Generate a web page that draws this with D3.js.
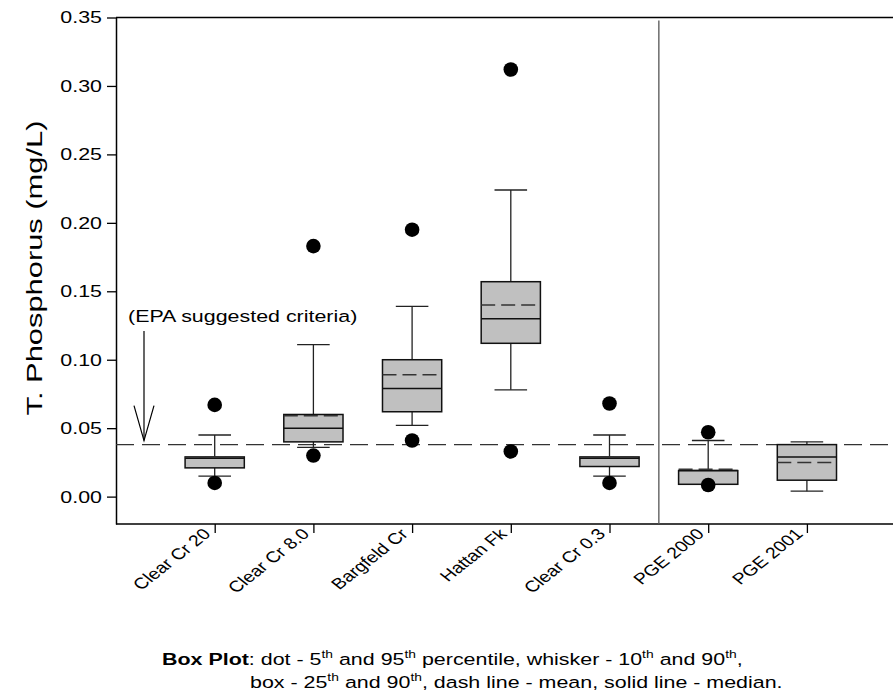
<!DOCTYPE html>
<html>
<head>
<meta charset="utf-8">
<script src="https://cdn.jsdelivr.net/npm/d3@7"></script>
<style>
  body { margin: 0; background: #fff; }
  text { font-family: "Liberation Sans", Arial, sans-serif; fill: #000; }
</style>
</head>
<body>
<div class="svg-container"></div>
<script>
// box plot values (mg/L)
var sites  = ["Clear Cr 20", "Clear Cr 8.0", "Bargfeld Cr", "Hattan Fk", "Clear Cr 0.3", "PGE 2000", "PGE 2001"];
var p5     = [0.010, 0.030, 0.041, 0.033, 0.010, 0.0085, null];
var p10    = [0.015, 0.036, 0.052, 0.078, 0.015, 0.009, 0.004];
var q1     = [0.021, 0.040, 0.062, 0.112, 0.022, 0.009, 0.012];
var median = [0.028, 0.050, 0.079, 0.130, 0.028, 0.019, 0.029];
var mean   = [0.029, 0.059, 0.089, 0.140, 0.029, 0.020, 0.025];
var q3     = [0.029, 0.060, 0.100, 0.157, 0.029, 0.019, 0.038];
var p90    = [0.045, 0.111, 0.139, 0.224, 0.045, 0.041, 0.040];
var p95    = [0.067, 0.183, 0.195, 0.312, 0.068, 0.047, null];
var yTicks = [0, 0.05, 0.10, 0.15, 0.20, 0.25, 0.30, 0.35];
var epaCriteria = 0.038;

var W = 893, H = 697;
var margin = { top: 17.5, left: 116, bottom: 524 };
var sx = 1.26; // text in the original looks stretched sideways

var svg = d3.select(".svg-container").append("svg")
    .attr("width", W)
    .attr("height", H);

var x = d3.scaleLinear().domain([0, 8]).range([margin.left, margin.left + 8 * 98.7]);
var y = d3.scaleLinear().domain([-0.02, 0.35]).range([margin.bottom, margin.top]);

// y axis
var yAxis = svg.append("g")
    .attr("transform", "translate(" + margin.left + ",0)")
    .call(d3.axisLeft(y).tickValues(yTicks).tickFormat(d3.format(".2f")).tickSize(9).tickPadding(5).tickSizeOuter(0));
yAxis.select(".domain").attr("stroke-width", 1.5);
yAxis.selectAll(".tick line").attr("stroke-width", 1.3);
yAxis.selectAll(".tick text")
    .style("font-size", "17px").attr("fill", "#000")
    .attr("x", -14 / sx).attr("transform", "scale(" + sx + ",1)");

// x axis
var xAxis = svg.append("g")
    .attr("transform", "translate(0," + margin.bottom + ")")
    .call(d3.axisBottom(x).tickValues(d3.range(1, sites.length + 1)).tickFormat("").tickSize(9).tickSizeOuter(0));
xAxis.select(".domain").attr("d", "M" + margin.left + ",0H" + W).attr("stroke-width", 1.5);
xAxis.selectAll(".tick line").attr("stroke-width", 1.3);

// top frame line
svg.append("line")
    .attr("x1", margin.left).attr("x2", W)
    .attr("y1", margin.top).attr("y2", margin.top)
    .attr("stroke", "#000").attr("stroke-width", 1.5);

// separator between the two groups
svg.append("line")
    .attr("x1", x(5.5)).attr("x2", x(5.5))
    .attr("y1", margin.top + 3).attr("y2", margin.bottom)
    .attr("stroke", "#555").attr("stroke-width", 1.3);

// category labels, rotated
sites.forEach(function(s, i) {
  svg.append("text")
      .attr("transform", "translate(" + (x(i + 1) - 3) + "," + (margin.bottom + 11) + ") scale(" + sx + ",1) rotate(-45)")
      .attr("text-anchor", "end")
      .style("font-size", "15.5px")
      .text(s);
});

// y title
svg.append("text")
    .attr("transform", "translate(42,268) scale(" + sx + ",1) rotate(-90)")
    .attr("text-anchor", "middle")
    .attr("textLength", 295).attr("lengthAdjust", "spacingAndGlyphs")
    .style("font-size", "18px")
    .text("T. Phosphorus (mg/L)");

// EPA criteria line
svg.append("line")
    .attr("x1", margin.left).attr("x2", W)
    .attr("y1", y(epaCriteria)).attr("y2", y(epaCriteria))
    .attr("stroke", "#333").attr("stroke-width", 1.2)
    .attr("stroke-dasharray", "18,8");

var boxW = 0.3, capW = 0.165;

sites.forEach(function(s, i) {
  var c = i + 1;
  var g = svg.append("g");
  // whiskers
  g.append("line").attr("x1", x(c)).attr("x2", x(c)).attr("y1", y(q3[i])).attr("y2", y(p90[i]))
      .attr("stroke", "#222").attr("stroke-width", 1.3);
  g.append("line").attr("x1", x(c)).attr("x2", x(c)).attr("y1", y(q1[i])).attr("y2", y(p10[i]))
      .attr("stroke", "#222").attr("stroke-width", 1.3);
  [p90[i], p10[i]].forEach(function(v) {
    g.append("line").attr("x1", x(c - capW)).attr("x2", x(c + capW)).attr("y1", y(v)).attr("y2", y(v))
        .attr("stroke", "#222").attr("stroke-width", 1.3);
  });
  // box
  g.append("rect")
      .attr("x", x(c - boxW)).attr("width", x(c + boxW) - x(c - boxW))
      .attr("y", y(q3[i])).attr("height", y(q1[i]) - y(q3[i]))
      .attr("fill", "#c0c0c0").attr("stroke", "#111").attr("stroke-width", 1.5);
  // median
  g.append("line").attr("x1", x(c - boxW)).attr("x2", x(c + boxW)).attr("y1", y(median[i])).attr("y2", y(median[i]))
      .attr("stroke", "#111").attr("stroke-width", 1.5);
  // mean
  g.append("line").attr("x1", x(c - boxW)).attr("x2", x(c + boxW)).attr("y1", y(mean[i])).attr("y2", y(mean[i]))
      .attr("stroke", "#333").attr("stroke-width", 1.5).attr("stroke-dasharray", "14,6");
  // 5th / 95th dots
  [p5[i], p95[i]].forEach(function(v) {
    if (v == null) return;
    g.append("circle").attr("cx", x(c)).attr("cy", y(v)).attr("r", 7.3).attr("fill", "#000");
  });
});

// EPA annotation + arrow
var ax = 144;
svg.append("text")
    .attr("transform", "translate(128,322) scale(" + sx + ",1)")
    .style("font-size", "17px")
    .text("(EPA suggested criteria)");
svg.append("line").attr("x1", ax).attr("x2", ax).attr("y1", 331).attr("y2", y(epaCriteria) - 4)
    .attr("stroke", "#000").attr("stroke-width", 1.2);
svg.append("path")
    .attr("d", "M" + (ax - 10) + "," + (y(epaCriteria) - 39) + "L" + ax + "," + (y(epaCriteria) - 4) + "L" + (ax + 10) + "," + (y(epaCriteria) - 39))
    .attr("fill", "none").attr("stroke", "#000").attr("stroke-width", 1.2);

// caption
function sup(t, s) {
  t.append("tspan").attr("dy", -7).style("font-size", "11px").text(s);
}
var cap1 = svg.append("text").attr("transform", "translate(162,665) scale(" + sx + ",1)").style("font-size", "17px");
cap1.append("tspan").style("font-weight", "bold").text("Box Plot");
cap1.append("tspan").text(":  dot -  5");
sup(cap1, "th");
cap1.append("tspan").attr("dy", 7).text(" and 95");
sup(cap1, "th");
cap1.append("tspan").attr("dy", 7).text(" percentile, whisker - 10");
sup(cap1, "th");
cap1.append("tspan").attr("dy", 7).text(" and 90");
sup(cap1, "th");
cap1.append("tspan").attr("dy", 7).text(",");

var cap2 = svg.append("text").attr("transform", "translate(250,688) scale(" + sx + ",1)").style("font-size", "17px");
cap2.append("tspan").text("box - 25");
sup(cap2, "th");
cap2.append("tspan").attr("dy", 7).text(" and 90");
sup(cap2, "th");
cap2.append("tspan").attr("dy", 7).text(", dash line - mean, solid line - median.");
</script>
</body>
</html>
